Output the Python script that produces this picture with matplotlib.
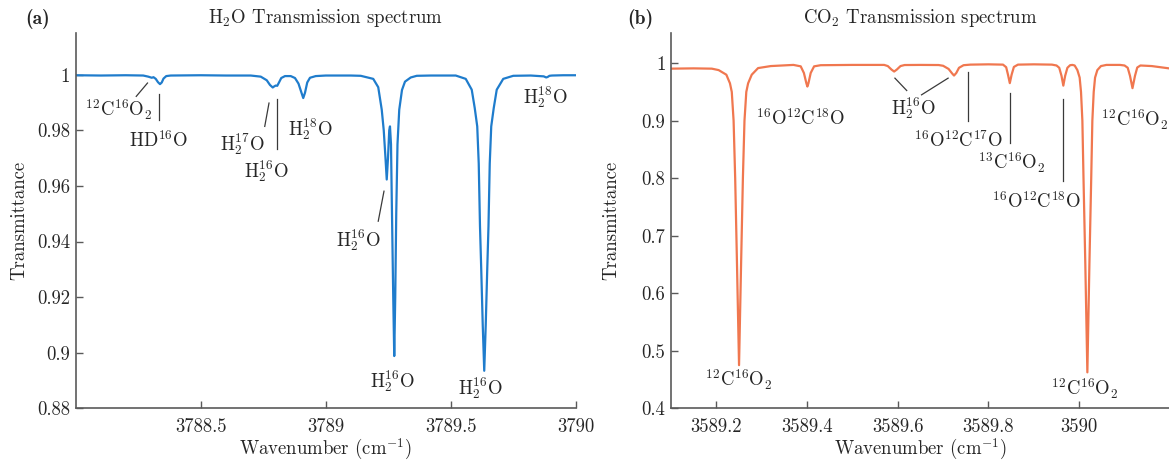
import matplotlib.pyplot as plt
from matplotlib.ticker import FuncFormatter

plt.rcParams['font.family'] = 'serif'
plt.rcParams['font.serif'] = ['cmr10']
plt.rcParams['mathtext.fontset'] = 'cm'
plt.rcParams['axes.formatter.use_mathtext'] = True
plt.rcParams['font.size'] = 13.5

# H2O spectrum, points
h2o_wn = [3788.00, 3788.10, 3788.20, 3788.27, 3788.29, 3788.304, 3788.311, 3788.320, 3788.329, 3788.337,
          3788.344, 3788.351, 3788.362, 3788.38, 3788.50, 3788.60, 3788.70, 3788.74, 3788.764, 3788.777,
          3788.788, 3788.794, 3788.800, 3788.806, 3788.813, 3788.822, 3788.837, 3788.86, 3788.877, 3788.891,
          3788.903, 3788.910, 3788.917, 3788.926, 3788.937, 3788.96, 3789.00, 3789.10, 3789.14, 3789.19,
          3789.210, 3789.224, 3789.232, 3789.239, 3789.244, 3789.249, 3789.254, 3789.257, 3789.261, 3789.265,
          3789.270, 3789.274, 3789.278, 3789.282, 3789.287, 3789.294, 3789.305, 3789.317, 3789.34, 3789.364,
          3789.42, 3789.52, 3789.56, 3789.584, 3789.596, 3789.606, 3789.612, 3789.617, 3789.622, 3789.628,
          3789.634, 3789.640, 3789.646, 3789.651, 3789.656, 3789.662, 3789.672, 3789.684, 3789.71, 3789.75,
          3789.82, 3789.872, 3789.882, 3789.888, 3789.895, 3789.905, 3789.95, 3790.00]
h2o_tr = [0.9998, 0.9997, 0.9998, 0.9997, 0.9993, 0.9989, 0.9991, 0.9985, 0.9973, 0.9966,
          0.9972, 0.9986, 0.9995, 0.9997, 0.9998, 0.9997, 0.9997, 0.9993, 0.9980, 0.9963,
          0.9954, 0.9958, 0.9961, 0.9960, 0.9972, 0.9988, 0.9995, 0.9995, 0.9988, 0.9968,
          0.9935, 0.9916, 0.9935, 0.9972, 0.9989, 0.9995, 0.9997, 0.9997, 0.9996, 0.9985,
          0.9955, 0.9874, 0.9800, 0.9700, 0.9623, 0.9700, 0.9800, 0.9814, 0.9750, 0.9500,
          0.9200, 0.8988, 0.9200, 0.9500, 0.9750, 0.9874, 0.9945, 0.9975, 0.9990, 0.9996,
          0.9997, 0.9997, 0.9985, 0.9946, 0.9880, 0.9814, 0.9680, 0.9455, 0.9300, 0.9100,
          0.8935, 0.9100, 0.9300, 0.9455, 0.9680, 0.9814, 0.9880, 0.9946, 0.9985, 0.9996,
          0.9997, 0.9994, 0.9990, 0.9992, 0.9996, 0.9997, 0.9998, 0.9998]

# CO2 spectrum
co2_wn = [3589.10, 3589.15, 3589.19, 3589.205, 3589.222, 3589.230, 3589.234, 3589.238, 3589.2415, 3589.2455,
          3589.250, 3589.2545, 3589.2585, 3589.262, 3589.266, 3589.270, 3589.278, 3589.292, 3589.32, 3589.37,
          3589.386, 3589.393, 3589.3985, 3589.4007, 3589.403, 3589.408, 3589.4155, 3589.43, 3589.50, 3589.57,
          3589.578, 3589.586, 3589.592, 3589.598, 3589.606, 3589.615, 3589.65, 3589.69, 3589.700, 3589.712,
          3589.720, 3589.724, 3589.729, 3589.735, 3589.745, 3589.76, 3589.80, 3589.832, 3589.839, 3589.843,
          3589.847, 3589.851, 3589.856, 3589.865, 3589.90, 3589.94, 3589.950, 3589.956, 3589.961, 3589.965,
          3589.969, 3589.974, 3589.980, 3589.985, 3589.990, 3589.996, 3590.001, 3590.004, 3590.007, 3590.0095,
          3590.0135, 3590.018, 3590.0225, 3590.0265, 3590.029, 3590.032, 3590.035, 3590.040, 3590.048, 3590.060,
          3590.09, 3590.100, 3590.107, 3590.112, 3590.1175, 3590.123, 3590.128, 3590.135, 3590.16, 3590.198]
co2_tr = [0.9905, 0.9910, 0.9905, 0.9880, 0.9800, 0.9650, 0.9500, 0.9000, 0.8000, 0.6500,
          0.4750, 0.6500, 0.8000, 0.9000, 0.9500, 0.9650, 0.9800, 0.9915, 0.9950, 0.9970,
          0.9945, 0.9830, 0.9650, 0.9594, 0.9650, 0.9830, 0.9945, 0.9965, 0.9970, 0.9970,
          0.9950, 0.9890, 0.9855, 0.9890, 0.9950, 0.9968, 0.9970, 0.9968, 0.9955, 0.9900,
          0.9820, 0.9785, 0.9830, 0.9920, 0.9965, 0.9975, 0.9980, 0.9975, 0.9930, 0.9800,
          0.9653, 0.9800, 0.9935, 0.9975, 0.9980, 0.9975, 0.9960, 0.9920, 0.9780, 0.9610,
          0.9780, 0.9920, 0.9965, 0.9970, 0.9960, 0.9880, 0.9750, 0.9500, 0.9000, 0.8000,
          0.6500, 0.4625, 0.6500, 0.8000, 0.9000, 0.9500, 0.9750, 0.9880, 0.9950, 0.9970,
          0.9970, 0.9960, 0.9920, 0.9780, 0.9566, 0.9780, 0.9925, 0.9960, 0.9950, 0.9910]

# labels: (text, x, y)
h2o_labels = [
    (r'$^{12}$C$^{16}$O$_2$', 3788.171, 0.9874),
    (r'HD$^{16}$O', 3788.333, 0.9763),
    (r'H$_2^{17}$O', 3788.665, 0.9752),
    (r'H$_2^{16}$O', 3788.761, 0.9652),
    (r'H$_2^{18}$O', 3788.937, 0.9803),
    (r'H$_2^{16}$O', 3789.129, 0.9404),
    (r'H$_2^{16}$O', 3789.265, 0.8898),
    (r'H$_2^{16}$O', 3789.617, 0.8873),
    (r'H$_2^{18}$O', 3789.877, 0.9921),
]
# leader lines: (x0, y0, x1, y1)
h2o_leaders = [
    (3788.242, 0.9922, 3788.287, 0.9970),
    (3788.333, 0.9838, 3788.333, 0.9931),
    (3788.756, 0.9814, 3788.773, 0.9898),
    (3788.807, 0.9734, 3788.807, 0.9914),
    (3789.210, 0.9473, 3789.233, 0.9581),
]

co2_labels = [
    (r'$^{16}$O$^{12}$C$^{18}$O', 3589.386, 0.9034),
    (r'H$_2^{16}$O', 3589.634, 0.9225),
    (r'$^{16}$O$^{12}$C$^{17}$O', 3589.735, 0.8653),
    (r'$^{13}$C$^{16}$O$_2$', 3589.850, 0.8271),
    (r'$^{16}$O$^{12}$C$^{18}$O', 3589.905, 0.7595),
    (r'$^{12}$C$^{16}$O$_2$', 3590.123, 0.9017),
    (r'$^{12}$C$^{16}$O$_2$', 3589.249, 0.4491),
    (r'$^{12}$C$^{16}$O$_2$', 3590.0125, 0.4335),
]
co2_leaders = [
    (3589.6197, 0.9525, 3589.5937, 0.9740),
    (3589.6524, 0.9450, 3589.7110, 0.9740),
    (3589.754, 0.8987, 3589.754, 0.9854),
    (3589.848, 0.8613, 3589.848, 0.9480),
    (3589.964, 0.7947, 3589.964, 0.9376),
]

h2o_xticks = [3788.5, 3789, 3789.5, 3790]
h2o_yticks = [0.88, 0.9, 0.92, 0.94, 0.96, 0.98, 1]
co2_xticks = [3589.2, 3589.4, 3589.6, 3589.8, 3590]
co2_yticks = [0.4, 0.5, 0.6, 0.7, 0.8, 0.9, 1]

text_col = '#262626'
axis_col = '#5a5a5a'

fig = plt.figure(figsize=(11.69, 4.66), dpi=100)
ax1 = fig.add_axes([0.0648, 0.1238, 0.4277, 0.8054])
ax2 = fig.add_axes([0.5740, 0.1238, 0.4260, 0.8054])


def style(ax, xticks, yticks):
    for s in ['top', 'right']:
        ax.spines[s].set_visible(False)
    for s in ['left', 'bottom']:
        ax.spines[s].set_color(axis_col)
        ax.spines[s].set_linewidth(1.2)
    ax.set_xticks(xticks)
    ax.set_yticks(yticks)
    fmt = FuncFormatter(lambda v, p: '%g' % v)
    ax.xaxis.set_major_formatter(fmt)
    ax.yaxis.set_major_formatter(fmt)
    ax.tick_params(axis='both', direction='in', length=5, width=1.0, color=axis_col,
                   labelcolor=text_col, labelsize=13.5)
    ax.tick_params(axis='x', pad=7)
    ax.tick_params(axis='y', pad=4)
    ax.set_xlabel(r'Wavenumber (cm$^{-1}$)', color=text_col)
    ax.set_ylabel('Transmittance', color=text_col)
    ax.xaxis.set_label_coords(0.5, -0.077)


ax1.plot(h2o_wn, h2o_tr, color='#1f7ccc', lw=1.6)
ax1.set_xlim(3788, 3790)
ax1.set_ylim(0.88, 1.015)
style(ax1, h2o_xticks, h2o_yticks)
ax1.yaxis.set_label_coords(-0.094, 0.5)
ax1.text(0.5, 1.04, r'H$_2$O Transmission spectrum', transform=ax1.transAxes,
         ha='center', va='center', color=text_col)
for t, x, y in h2o_labels:
    ax1.text(x, y, t, ha='center', va='center', color=text_col)
for x0, y0, x1, y1 in h2o_leaders:
    ax1.plot([x0, x1], [y0, y1], color='#3a3a3a', lw=0.9)

ax2.plot(co2_wn, co2_tr, color='#f0774f', lw=1.6)
ax2.set_xlim(3589.1, 3590.198)
ax2.set_ylim(0.4, 1.0525)
style(ax2, co2_xticks, co2_yticks)
ax2.yaxis.set_label_coords(-0.102, 0.5)
ax2.text(0.5, 1.04, r'CO$_2$ Transmission spectrum', transform=ax2.transAxes,
         ha='center', va='center', color=text_col)
for t, x, y in co2_labels:
    ax2.text(x, y, t, ha='center', va='center', color=text_col)
for x0, y0, x1, y1 in co2_leaders:
    ax2.plot([x0, x1], [y0, y1], color='#3a3a3a', lw=0.9)

fig.text(0.0325, 0.959, '(a)', family='cmb10', ha='center', va='center', color=text_col, fontsize=14)
fig.text(0.548, 0.959, '(b)', family='cmb10', ha='center', va='center', color=text_col, fontsize=14)

fig.savefig('out.png', dpi=100)
